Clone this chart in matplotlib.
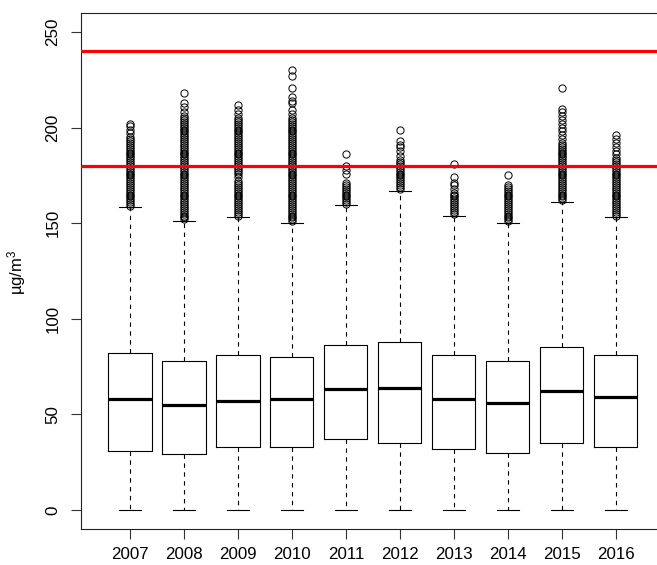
import matplotlib
matplotlib.use("Agg")
import matplotlib.pyplot as plt

plt.rcParams['font.family'] = ['Liberation Sans', 'DejaVu Sans']
plt.rcParams['mathtext.fontset'] = 'custom'
plt.rcParams['mathtext.rm'] = 'Liberation Sans'
plt.rcParams['mathtext.default'] = 'regular'

years = ['2007', '2008', '2009', '2010', '2011', '2012', '2013', '2014', '2015', '2016']
q1 = [31, 29, 33, 33, 37, 35, 32, 30, 35, 33]
medians = [58, 55, 57, 58, 63, 64, 58, 56, 62, 59]
q3 = [82, 78, 81, 80, 86.5, 88, 81, 78, 85, 81]
whis_lo = [0, 0, 0, 0, 0, 0, 0, 0, 0, 0]
whis_hi = [158.5, 151, 153, 150, 159.5, 167, 154, 150, 161, 153]

# outliers (dense columns = roughly every integer value)
fliers_2007 = [159, 160, 161, 162, 163, 164, 165, 166, 167, 168, 169, 170, 171, 172, 173,
               174, 175, 176, 177, 178, 179, 180, 181, 182, 183, 184, 185, 186, 187, 188,
               189, 190, 191, 192, 193, 194, 195, 197, 199, 201, 202]
fliers_2008 = [152, 153, 154, 155, 156, 157, 158, 159, 160, 161, 162, 163, 164, 165, 166,
               167, 168, 169, 170, 171, 172, 173, 174, 175, 176, 177, 178, 179, 180, 181,
               182, 183, 184, 185, 186, 187, 188, 189, 190, 191, 192, 193, 194, 195, 196,
               197, 198, 199, 200, 201, 202, 203, 204, 205, 206, 208, 211, 213, 218]
fliers_2009 = [154, 155, 156, 157, 158, 159, 160, 161, 162, 163, 164, 165, 166, 167, 168,
               169, 170, 171, 172, 174, 176, 177, 178, 179, 180, 181, 182, 183, 184, 185,
               186, 187, 188, 189, 190, 191, 192, 193, 194, 195, 196, 197, 198, 199, 200,
               201, 202, 203, 204, 205, 207, 209, 212]
fliers_2010 = [151, 152, 153, 154, 155, 156, 157, 158, 159, 160, 161, 162, 163, 164, 165,
               166, 167, 168, 169, 170, 171, 172, 173, 174, 175, 176, 177, 178, 179, 180,
               181, 182, 183, 184, 185, 186, 187, 188, 189, 190, 191, 192, 193, 194, 195,
               196, 197, 198, 199, 200, 201, 202, 203, 204, 205, 207, 209, 213, 214, 216,
               221, 227, 230]
fliers_2011 = [160, 161, 162, 163, 164, 165, 166, 167, 168, 169, 170, 171, 176, 178, 180, 186]
fliers_2012 = [168, 169, 170, 171, 172, 173, 174, 175, 176, 177, 178, 179, 180, 181, 182,
               183, 185, 188, 190, 191, 193, 199]
fliers_2013 = [155, 156, 157, 158, 159, 160, 161, 162, 163, 164, 165, 166, 168, 170, 171,
               174, 181]
fliers_2014 = [151, 152, 153, 154, 155, 156, 157, 158, 159, 160, 161, 162, 163, 164, 165,
               166, 167, 168, 169, 170, 175]
fliers_2015 = [162, 163, 164, 165, 166, 167, 168, 169, 170, 171, 172, 173, 174, 175, 176,
               177, 178, 179, 180, 181, 182, 183, 184, 185, 186, 187, 188, 189, 190, 191,
               192, 194, 196, 198, 200, 202, 204, 206, 208, 210, 221]
fliers_2016 = [154, 155, 156, 157, 158, 159, 160, 161, 162, 163, 164, 165, 166, 167, 168,
               169, 170, 171, 172, 173, 174, 175, 176, 177, 178, 179, 180, 181, 182, 183,
               184, 186, 188, 190, 192, 194, 196]
fliers = [fliers_2007, fliers_2008, fliers_2009, fliers_2010, fliers_2011,
          fliers_2012, fliers_2013, fliers_2014, fliers_2015, fliers_2016]

limits = [180, 240]

stats = []
for i in range(len(years)):
    stats.append(dict(label=years[i], q1=q1[i], med=medians[i], q3=q3[i],
                      whislo=whis_lo[i], whishi=whis_hi[i], fliers=fliers[i]))

W, H = 657, 565
fig = plt.figure(figsize=(W / 100, H / 100), dpi=100)
ax = fig.add_axes([81.4 / W, 1 - 529 / H, (664.3 - 81.4) / W, (529 - 13) / H])

lw = 0.8
ax.bxp(stats, positions=range(1, 11), widths=0.8, capwidths=0.4,
       boxprops=dict(color='black', linewidth=lw),
       medianprops=dict(color='black', linewidth=2.3, solid_capstyle='butt'),
       whiskerprops=dict(color='black', linewidth=lw, linestyle=(0, (4, 4))),
       capprops=dict(color='black', linewidth=lw),
       flierprops=dict(marker='o', markerfacecolor='none', markeredgecolor='black',
                       markersize=5.2, markeredgewidth=0.7, linestyle='none'))

for v in limits:
    ax.axhline(v, color='red', linewidth=2.3, zorder=5)

ax.set_xlim(0.1, 10.9)
ax.set_ylim(-10, 260)
ax.set_xticks(range(1, 11))
ax.set_xticklabels(years)
ax.set_yticks([0, 50, 100, 150, 200, 250])
ax.set_yticklabels(['0', '50', '100', '150', '200', '250'], rotation=90, va='center')
ax.tick_params(axis='both', length=7, width=lw, color='#333333', labelsize=12.2)
ax.tick_params(axis='x', pad=6)
ax.tick_params(axis='y', pad=8)
for s in ax.spines.values():
    s.set_linewidth(lw)
    s.set_color('#222222')

ax.set_ylabel('µg/m$^3$', fontsize=12)
ax.yaxis.set_label_coords(-0.091, 0.497)

fig.savefig('out.png', dpi=100)
